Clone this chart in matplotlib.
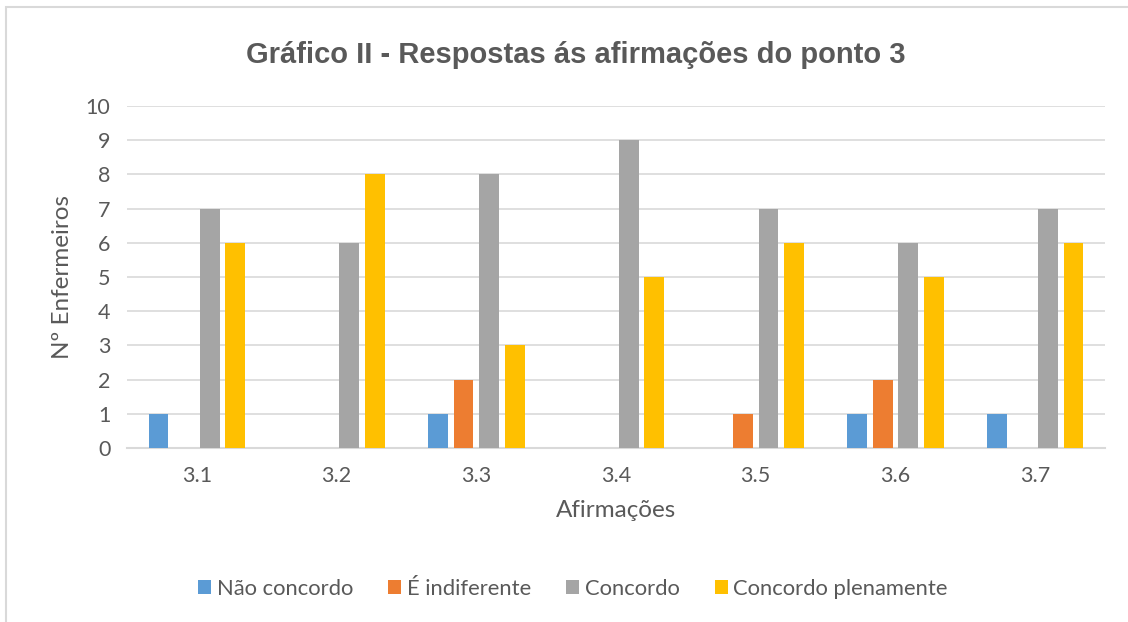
import matplotlib.pyplot as plt
import matplotlib.patches as mpatches
import numpy as np

categories = ['3.1', '3.2', '3.3', '3.4', '3.5', '3.6', '3.7']
series_names = ['Não concordo', 'É indiferente', 'Concordo', 'Concordo plenamente']
nao_concordo = [1, 0, 1, 0, 0, 1, 1]
indiferente = [0, 0, 2, 0, 1, 2, 0]
concordo = [7, 6, 8, 9, 7, 6, 7]
plenamente = [6, 8, 3, 5, 6, 5, 6]
colors = ['#5B9BD5', '#ED7D31', '#A5A5A5', '#FFC000']

txt = '#595959'
plt.rcParams['font.family'] = ['Lato', 'DejaVu Sans']

fig = plt.figure(figsize=(11.28, 6.22), dpi=100)
ax = fig.add_axes([127/1128, 1 - 448/622, (1105-127)/1128, (448-106)/622])

# outer chart border (only top/left visible in reference)
fig.patches.append(mpatches.Rectangle((6/1128, -0.1), 1.2, 1 - 7/622 + 0.1,
                                      transform=fig.transFigure, fill=False,
                                      edgecolor='#D9D9D9', linewidth=1.5))

x = np.arange(len(categories))
step = 0.183
width = 0.143
for i, (vals, name) in enumerate(zip([nao_concordo, indiferente, concordo, plenamente], series_names)):
    ax.bar(x + (i - 1.5) * step, vals, width, color=colors[i], label=name, zorder=3)

ax.set_xlim(-0.5, len(categories) - 0.5)
ax.set_ylim(0, 10)
ax.set_yticks(range(0, 11))
ax.set_xticks(x)
ax.set_xticklabels(categories)
ax.tick_params(axis='both', length=0, labelsize=15.5, labelcolor=txt)
ax.tick_params(axis='x', pad=13)
ax.tick_params(axis='y', pad=12)
ax.grid(axis='y', color='#D9D9D9', linewidth=1.2, zorder=0)
for s in ['top', 'right', 'left']:
    ax.spines[s].set_visible(False)
ax.spines['bottom'].set_color('#D9D9D9')
ax.spines['bottom'].set_linewidth(1.5)

ax.set_ylabel('Nº Enfermeiros', fontsize=17.5, color=txt, labelpad=9)
ax.set_xlabel('Afirmações', fontsize=17.5, color=txt, labelpad=10)

fig.text(576/1128, 1 - 55/622, 'Gráfico II - Respostas ás afirmações do ponto 3',
         ha='center', va='center', fontsize=21, fontweight='bold', color=txt,
         family='Liberation Sans')

leg = fig.legend(loc='center', bbox_to_anchor=(573/1128, 1 - 589/622), ncol=4,
                 frameon=False, fontsize=15.8, handlelength=0.6, handleheight=0.6,
                 handletextpad=0.25, columnspacing=1.6)
for t in leg.get_texts():
    t.set_color(txt)

fig.savefig('out.png', dpi=100)
